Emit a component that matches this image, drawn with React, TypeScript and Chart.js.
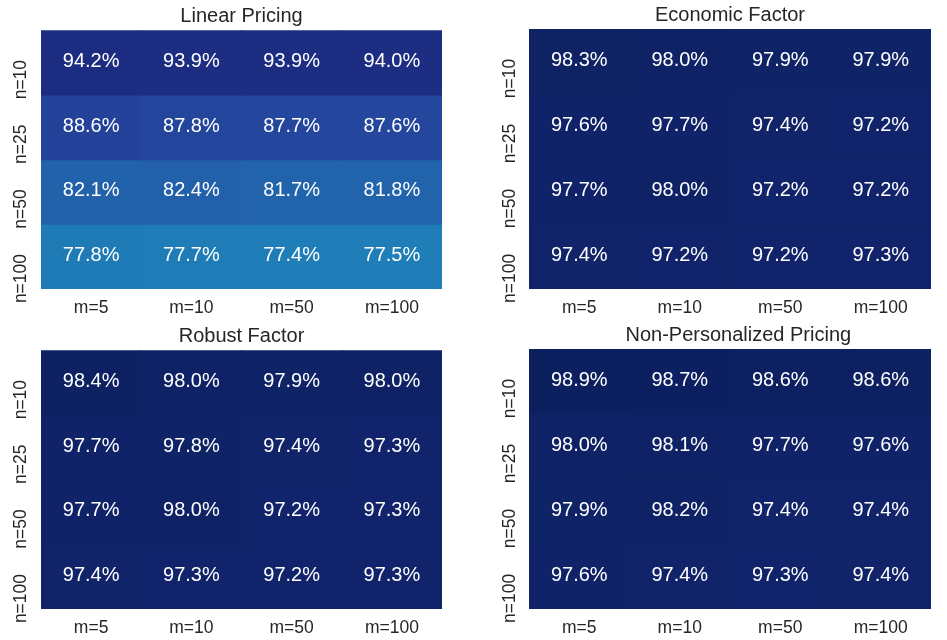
import React, { useEffect, useRef } from "react";
import { Chart, registerables } from "chart.js";

Chart.register(...registerables);

const mLabels = ["m=5", "m=10", "m=50", "m=100"];
const nLabels = ["n=10", "n=25", "n=50", "n=100"];

const linearPricing = [
  [94.2, 93.9, 93.9, 94.0],
  [88.6, 87.8, 87.7, 87.6],
  [82.1, 82.4, 81.7, 81.8],
  [77.8, 77.7, 77.4, 77.5],
];
const economicFactor = [
  [98.3, 98.0, 97.9, 97.9],
  [97.6, 97.7, 97.4, 97.2],
  [97.7, 98.0, 97.2, 97.2],
  [97.4, 97.2, 97.2, 97.3],
];
const robustFactor = [
  [98.4, 98.0, 97.9, 98.0],
  [97.7, 97.8, 97.4, 97.3],
  [97.7, 98.0, 97.2, 97.3],
  [97.4, 97.3, 97.2, 97.3],
];
const nonPersonalized = [
  [98.9, 98.7, 98.6, 98.6],
  [98.0, 98.1, 97.7, 97.6],
  [97.9, 98.2, 97.4, 97.4],
  [97.6, 97.4, 97.3, 97.4],
];

const titles = ["Linear Pricing", "Economic Factor", "Robust Factor", "   Non-Personalized Pricing"];

const FONT = "'Liberation Sans', Arial, Helvetica, sans-serif";
const TEXT = "#262626";
const VMIN = 31;
const VMAX = 100;

const YLGNBU = ["#ffffd9", "#edf8b1", "#c7e9b4", "#7fcdbb", "#41b6c4", "#1d91c0", "#225ea8", "#253494", "#081d58"];

function hexToRgb(h: string) {
  return [parseInt(h.slice(1, 3), 16), parseInt(h.slice(3, 5), 16), parseInt(h.slice(5, 7), 16)];
}

function colorFor(v: number) {
  let t = (v - VMIN) / (VMAX - VMIN);
  t = Math.max(0, Math.min(1, t));
  const pos = t * (YLGNBU.length - 1);
  const i = Math.min(YLGNBU.length - 2, Math.floor(pos));
  const f = pos - i;
  const a = hexToRgb(YLGNBU[i]);
  const b = hexToRgb(YLGNBU[i + 1]);
  const c = a.map((x, k) => Math.round(x + (b[k] - x) * f));
  return `rgb(${c[0]},${c[1]},${c[2]})`;
}

type PanelProps = {
  title: string;
  values: number[][];
  left: number;
  top: number;
  width: number;
  height: number;
  yAxisWidth: number;
  padRight: number;
  yPad: number;
};

function Panel({ title, values, left, top, width, height, yAxisWidth, padRight, yPad }: PanelProps) {
  const ref = useRef<HTMLCanvasElement | null>(null);
  useEffect(() => {
    if (!ref.current) return;
    const annot = {
      id: "annot",
      afterDatasetsDraw(chart: any) {
        const ctx = chart.ctx;
        ctx.save();
        ctx.fillStyle = "#ffffff";
        ctx.font = `20px ${FONT}`;
        ctx.textAlign = "center";
        ctx.textBaseline = "middle";
        values.forEach((row, r) => {
          const meta = chart.getDatasetMeta(r);
          meta.data.forEach((bar: any, c: number) => {
            const p = bar.getProps(["x", "y", "base"], true);
            ctx.fillText(row[c].toFixed(1) + "%", p.x, (p.y + p.base) / 2 - 1.2);
          });
        });
        ctx.restore();
      },
    };
    const chart = new Chart(ref.current, {
      type: "bar",
      data: {
        labels: mLabels,
        datasets: values.map((row, r) => ({
          label: nLabels[r],
          data: row.map(() => 1),
          backgroundColor: row.map(colorFor),
          borderWidth: 0,
          borderSkipped: false,
          inflateAmount: 0.5,
          barPercentage: 1,
          categoryPercentage: 1,
          stack: "cells",
          xAxisID: "x",
          yAxisID: "y",
        })),
      },
      options: {
        responsive: false,
        animation: false,
        layout: { padding: { left: 0, right: padRight, top: 0, bottom: 0 } },
        plugins: {
          legend: { display: false },
          tooltip: { enabled: false },
          title: {
            display: true,
            text: title,
            fullSize: false,
            color: TEXT,
            font: { family: FONT, size: 20, weight: "normal" as any, lineHeight: 1.2 },
            padding: { top: 2.5, bottom: 1.5 },
          },
        },
        scales: {
          x: {
            type: "category",
            position: "bottom",
            offset: true,
            grid: { display: false, drawTicks: false },
            border: { display: false },
            ticks: { color: TEXT, font: { family: FONT, size: 17.5 }, padding: 9, autoSkip: false, maxRotation: 0, minRotation: 0 },
            afterFit: (s: any) => {
              s.height = 31;
            },
          },
          y: {
            type: "linear",
            display: false,
            stacked: true,
            min: 0,
            max: nLabels.length,
            reverse: true,
          },
          yCat: {
            type: "category",
            axis: "y",
            position: "left",
            labels: nLabels,
            offset: true,
            grid: { display: false, drawTicks: false },
            border: { display: false },
            ticks: {
              color: TEXT,
              font: { family: FONT, size: 17.5 },
              autoSkip: false,
              minRotation: 90,
              maxRotation: 90,
              crossAlign: "near",
              padding: yPad,
              labelOffset: -2.7,
            },
            afterFit: (s: any) => {
              s.width = yAxisWidth;
            },
          } as any,
        },
      },
      plugins: [annot],
    } as any);
    return () => chart.destroy();
  }, [title, values, width, height, yAxisWidth, padRight, yPad]);
  return (
    <canvas
      ref={ref}
      width={width}
      height={height}
      style={{ position: "absolute", left, top, width, height }}
    />
  );
}

export default function App() {
  const all = [linearPricing, economicFactor, robustFactor, nonPersonalized];
  const geo = [
    { left: 0, top: 0, width: 470, height: 320, yAxisWidth: 41, padRight: 28, yPad: 19.8 },
    { left: 470, top: 0, width: 477, height: 320, yAxisWidth: 59, padRight: 16, yPad: 18.4 },
    { left: 0, top: 320, width: 470, height: 320, yAxisWidth: 41, padRight: 28, yPad: 19.8 },
    { left: 470, top: 320, width: 477, height: 320, yAxisWidth: 59, padRight: 16, yPad: 18.4 },
  ];
  return (
    <div style={{ position: "absolute", left: 0, top: 0, width: 947, height: 640, background: "#ffffff" }}>
      {all.map((v, i) => (
        <Panel key={i} title={titles[i]} values={v} {...geo[i]} />
      ))}
    </div>
  );
}
